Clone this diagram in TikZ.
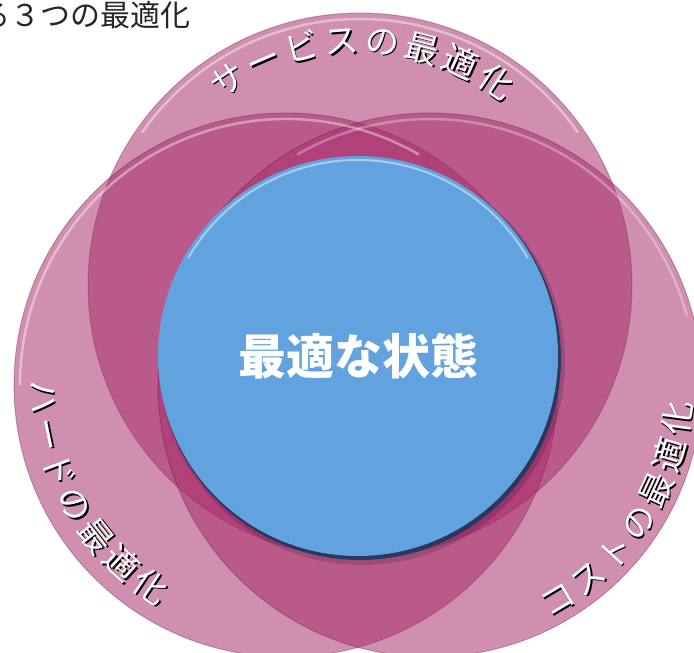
\documentclass[tikz,border=0pt]{standalone}
\usepackage{fontspec}
\newfontfamily\jpfont{Noto Sans CJK JP}
\usetikzlibrary{decorations.text}
\definecolor{ringpink}{RGB}{167,43,107}
\definecolor{calmblue}{RGB}{98,163,223}
\definecolor{blueshade}{RGB}{25,55,95}
\newcommand\arclbl{\jpfont\fontsize{34}{34}\selectfont}
\tikzset{
  ring/.style={fill=ringpink, fill opacity=0.53, draw=ringpink!50!black, draw opacity=0.3, line width=1},
  gloss/.style={draw=white, draw opacity=0.4, line width=2.5},
  arclabel/.style={decorate, decoration={text along path, text align={fit to path}, text color=white, text={|\arclbl|#1}}},
  arcshadow/.style={decorate, decoration={text along path, text align={fit to path}, text color=black, text={|\arclbl|#1}}, opacity=0.35},
}
\begin{document}
\begin{tikzpicture}[x=1pt, y=1pt]
\useasboundingbox (0,0) rectangle (694,653);
\clip (0,0) rectangle (694,653);
\coordinate (svc) at (360,368);
\coordinate (hw) at (286,268);
\coordinate (cost) at (430,268);
\coordinate (best) at (358,297);

% three rings
\foreach \c in {svc,hw,cost}{
  \path[ring] (\c) circle (272);
}
\draw[gloss, shift={(svc)}] (35:266) arc[start angle=35, end angle=145, radius=266];
\draw[gloss, shift={(hw)}] (60:266) arc[start angle=60, end angle=180, radius=266];
\draw[gloss, shift={(cost)}, draw opacity=0.3] (15:266) arc[start angle=15, end angle=120, radius=266];

% blue disc
\fill[black, opacity=0.15] ([shift={(4,-6)}]best) circle (203);
\fill[blueshade, opacity=0.85] ([shift={(2,-3)}]best) circle (201);
\fill[calmblue] (best) circle (200);
\draw[white!45!calmblue, line width=2, shift={(best)}] (30:196) arc[start angle=30, end angle=150, radius=196];
\node[font=\jpfont\bfseries\fontsize{48}{48}\selectfont, text=white] (state) at (best) {最適な状態};

% labels on the rings
\path[arcshadow={サービスの最適化}, shift={(svc)}, shift={(1.5,-1.5)}] (127:232) arc[start angle=127, end angle=52, radius=232];
\path[arclabel={サービスの最適化}, shift={(svc)}] (127:232) arc[start angle=127, end angle=52, radius=232];
\path[arcshadow={ハードの最適化}, shift={(hw)}, shift={(1.5,-1.5)}] (179:255) arc[start angle=179, end angle=240, radius=255];
\path[arclabel={ハードの最適化}, shift={(hw)}] (179:255) arc[start angle=179, end angle=240, radius=255];
\path[arcshadow={コストの最適化}, shift={(cost)}, shift={(1.5,-1.5)}] (-63:262) arc[start angle=-63, end angle=-4, radius=262];
\path[arclabel={コストの最適化}, shift={(cost)}] (-63:262) arc[start angle=-63, end angle=-4, radius=262];

\node[anchor=base east, inner sep=0, font=\jpfont\fontsize{30}{30}\selectfont, text=black!85] (title) at (191,626) {る３つの最適化};
\end{tikzpicture}
\end{document}
